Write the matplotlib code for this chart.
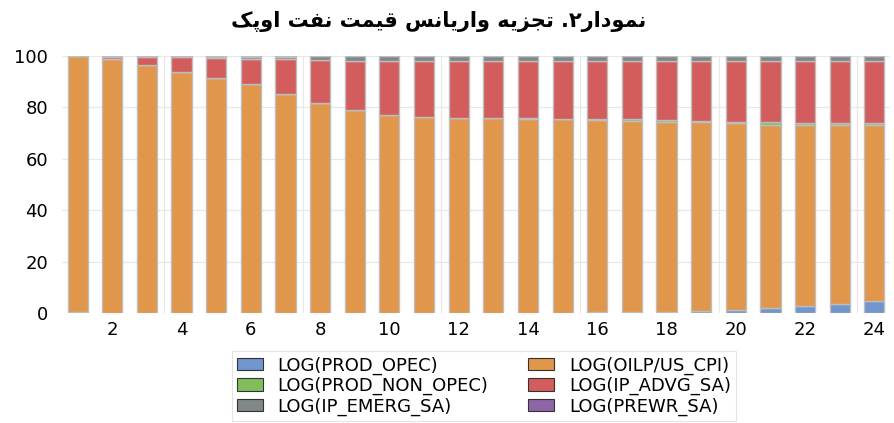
import matplotlib

matplotlib.use("Agg", force=True)
import matplotlib.pyplot as plt
import numpy as np
from matplotlib.patches import Patch

periods = list(range(1, 25))
prod_opec = [0.3, 0.0, 0.0, 0.0, 0.0, 0.0, 0.0, 0.0, 0.0, 0.0, 0.0, 0.0,
             0.0, 0.1, 0.1, 0.2, 0.4, 0.5, 0.8, 1.2, 1.8, 2.7, 3.5, 4.7]
oilp_cpi = [99.6, 98.8, 96.5, 93.9, 91.6, 89.1, 85.2, 81.7, 79.0, 77.0, 76.3, 75.8,
            75.7, 75.5, 75.2, 75.0, 74.5, 74.0, 73.4, 72.6, 71.5, 70.6, 69.8, 68.6]
prod_non_opec = [0.0, 0.0, 0.0, 0.0, 0.0, 0.0, 0.0, 0.1, 0.1, 0.1, 0.1, 0.1,
                 0.1, 0.2, 0.3, 0.3, 0.4, 0.5, 0.5, 0.6, 0.9, 0.6, 0.6, 0.6]
ip_advg = [0.05, 0.7, 3.2, 5.6, 7.5, 9.9, 13.5, 16.5, 19.0, 20.8, 21.5, 22.0,
           22.1, 22.1, 22.3, 22.4, 22.6, 22.9, 23.2, 23.5, 23.7, 24.0, 24.0, 24.0]
ip_emerg = [0.05, 0.4, 0.2, 0.4, 0.6, 0.7, 1.1, 1.6, 1.8, 2.0, 2.0, 2.0,
            2.0, 2.0, 2.0, 2.0, 2.0, 2.0, 2.0, 2.0, 2.0, 2.0, 2.0, 2.0]
prewr = [0.0, 0.1, 0.1, 0.1, 0.3, 0.3, 0.2, 0.1, 0.1, 0.1, 0.1, 0.1,
         0.1, 0.1, 0.1, 0.1, 0.1, 0.1, 0.1, 0.1, 0.1, 0.1, 0.1, 0.1]

series = [
    ("LOG(PROD_OPEC)", prod_opec, "#7195cd"),
    ("LOG(OILP/US_CPI)", oilp_cpi, "#e0964b"),
    ("LOG(PROD_NON_OPEC)", prod_non_opec, "#82bd5c"),
    ("LOG(IP_ADVG_SA)", ip_advg, "#d35c5d"),
    ("LOG(IP_EMERG_SA)", ip_emerg, "#818686"),
    ("LOG(PREWR_SA)", prewr, "#8e66a6"),
]

title_text = "نمودار۲. تجزیه واریانس قیمت نفت اوپک"

# (isolated, final, initial, medial) presentation forms; right-joining letters have 2
FORMS = {
    "ن": "\uFEE5\uFEE6\uFEE7\uFEE8", "م": "\uFEE1\uFEE2\uFEE3\uFEE4",
    "و": "\uFEED\uFEEE", "د": "\uFEA9\uFEAA", "ا": "\uFE8D\uFE8E",
    "ر": "\uFEAD\uFEAE", "ز": "\uFEAF\uFEB0",
    "ت": "\uFE95\uFE96\uFE97\uFE98", "ج": "\uFE9D\uFE9E\uFE9F\uFEA0",
    "ی": "\uFBFC\uFBFD\uFBFE\uFBFF", "ه": "\uFEE9\uFEEA\uFEEB\uFEEC",
    "س": "\uFEB1\uFEB2\uFEB3\uFEB4", "ق": "\uFED5\uFED6\uFED7\uFED8",
    "ف": "\uFED1\uFED2\uFED3\uFED4", "پ": "\uFB56\uFB57\uFB58\uFB59",
    "ک": "\uFB8E\uFB8F\uFB90\uFB91",
}


def shape_rtl(text):
    out = []
    for i, ch in enumerate(text):
        forms = FORMS.get(ch)
        if forms is None:
            out.append(ch)
            continue
        prev = text[i - 1] if i > 0 else ""
        nxt = text[i + 1] if i + 1 < len(text) else ""
        join_prev = prev in FORMS and len(FORMS[prev]) == 4
        join_next = len(forms) == 4 and nxt in FORMS
        if join_prev and join_next:
            out.append(forms[3])
        elif join_prev:
            out.append(forms[1])
        elif join_next:
            out.append(forms[2])
        else:
            out.append(forms[0])
    return "".join(reversed(out))


fig = plt.figure(figsize=(8.95, 4.23), dpi=100)
ax = fig.add_axes([62 / 895, 1 - 313 / 423, 828 / 895, 257 / 423])

x = np.array(periods)
bottom = np.zeros(len(periods))
for label, values, color in series:
    vals = np.array(values)
    ax.bar(x, vals, width=0.58, bottom=bottom, color=color, label=label,
           edgecolor="#bdbdbd", linewidth=1.0, zorder=3)
    bottom += vals

ax.set_xlim(0.55, 24.45)
ax.set_ylim(0, 100)
ax.set_yticks(range(0, 101, 20))
ax.set_xticks(range(2, 25, 2))
ax.tick_params(length=0, labelsize=13, colors="black")
ax.tick_params(axis="x", pad=6)
ax.tick_params(axis="y", pad=10)
for sp in ax.spines.values():
    sp.set_visible(False)

for yv in range(20, 101, 20):
    ax.axhline(yv, color="#e8e8e8", linewidth=0.9, zorder=0)
for xv in np.arange(3.5, 24.5, 4):
    ax.axvline(xv, color="#e8e8e8", linewidth=0.9, zorder=0)

fig.text(0.49, 1 - 22 / 423, shape_rtl(title_text), ha="center", va="center",
         fontsize=15, fontweight="bold", family=["DejaVu Sans"])

handles = [Patch(facecolor=c, edgecolor="#333333", linewidth=0.8, label=l)
           for l, _, c in series]
order = [0, 2, 4, 1, 3, 5]
leg = fig.legend([handles[i] for i in order], [series[i][0] for i in order],
                 ncol=2, loc="center", bbox_to_anchor=(484 / 895, 1 - 386 / 423),
                 fontsize=13, frameon=True, fancybox=False, edgecolor="#dddddd",
                 handlelength=1.45, handleheight=0.7, columnspacing=2.2,
                 labelspacing=0.12, borderpad=0.3, handletextpad=0.8)
leg.get_frame().set_linewidth(0.8)

fig.savefig("out.png", dpi=100)
